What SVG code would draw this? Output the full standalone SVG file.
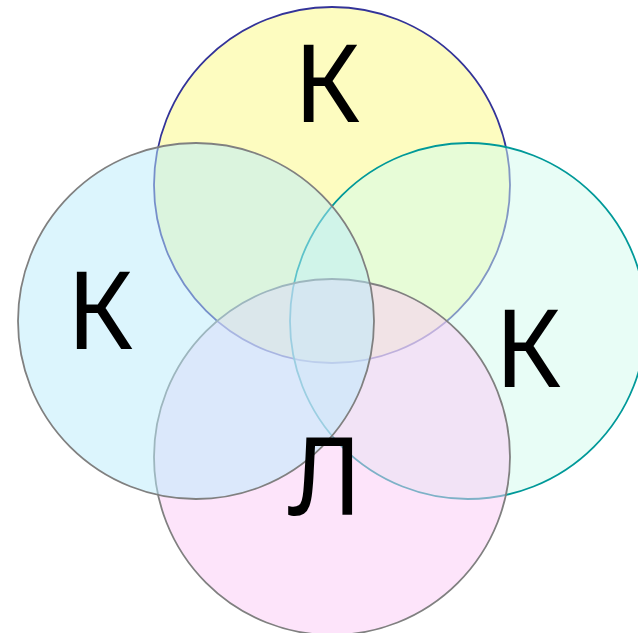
<svg xmlns="http://www.w3.org/2000/svg" width="638" height="633" viewBox="0 0 638 633">
<style>
.c{fill-opacity:0.5;stroke-width:1.8}
.t{font-family:"Noto Sans","Open Sans","DejaVu Sans",sans-serif;font-size:107px;fill:#000;text-anchor:middle}
</style>
<rect width="638" height="633" fill="#fff"/>
<g id="top"><circle class="c" cx="332" cy="185" r="178" fill="#FBF981" stroke="#333399"/></g>
<g id="right"><circle class="c" cx="468" cy="321" r="178" fill="#D1FBED" stroke="#009999"/></g>
<g id="bottom"><circle class="c" cx="332" cy="457" r="178" fill="#FBC9F5" stroke="#808080"/></g>
<g id="left"><circle class="c" cx="196" cy="321" r="178" fill="#B9EBFB" stroke="#808080"/></g>
<g id="labels">
<text class="t" x="327" y="122">К</text>
<text class="t" x="100" y="349">К</text>
<text class="t" x="528" y="387">К</text>
<text class="t" x="325" y="515">Л</text>
</g>
</svg>
